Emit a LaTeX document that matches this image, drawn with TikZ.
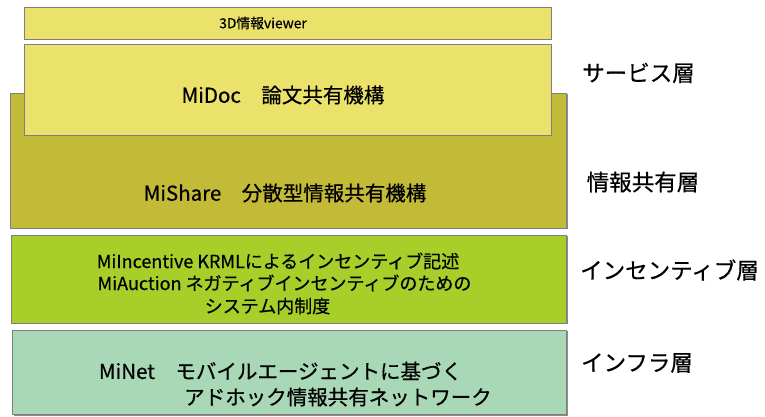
\documentclass[tikz,border=0pt]{standalone}
\usepackage{fontspec}
\setmainfont{Noto Sans CJK JP}[FakeBold=0.5]
\usetikzlibrary{shadows}
\definecolor{cYellow}{HTML}{EAE26B}
\definecolor{cOlive}{HTML}{C3BA37}
\definecolor{cLime}{HTML}{A7CE29}
\definecolor{cMint}{HTML}{A9D8B6}
\definecolor{cBorder}{HTML}{7F7F7F}
\begin{document}
\begin{tikzpicture}[x=1pt,y=-1pt,
  layerbox/.style={draw=cBorder, line width=0.9pt, inner sep=0pt, outer sep=0pt,
    drop shadow={shadow xshift=1pt, shadow yshift=-1pt, opacity=0.45, fill=black}},
  txt/.style={inner sep=0pt, anchor=center, text=black},
  fsSmall/.style={font=\fontsize{13.8}{16}\selectfont},
  fsBig/.style={font=\fontsize{20.5}{24}\selectfont},
  fsMid/.style={font=\fontsize{18}{21}\selectfont},
  fsLabel/.style={font=\fontsize{22.5}{26}\selectfont},
]
\useasboundingbox (0,0) rectangle (765,417);
% boxes
\node[layerbox, fill=cOlive, minimum width=556.5pt, minimum height=135pt] (mishare) at (288.25,160.5) {};
\node[layerbox, fill=cYellow, minimum width=527pt, minimum height=91pt] (midoc) at (287.5,89.5) {};
\node[layerbox, fill=cYellow, minimum width=527pt, minimum height=32.5pt] (viewer) at (287.5,23.25) {};
\node[layerbox, fill=cLime, minimum width=555.5pt, minimum height=88pt] (incent) at (288.75,279) {};
\node[layerbox, fill=cMint, minimum width=554pt, minimum height=84.5pt] (infra) at (289.5,372.25) {};
% texts
\node[txt, fsSmall] (tviewer) at (263,23) {3D情報viewer};
\node[txt, fsBig] (tmidoc) at (283,95) {MiDoc　論文共有機構};
\node[txt, fsBig] (tmishare) at (285,193) {MiShare　分散型情報共有機構};
\node[txt, fsMid] (tinc1) at (278,261) {MiIncentive KRMLによるインセンティブ記述};
\node[txt, fsMid] (tinc2) at (284.5,283) {MiAuction ネガティブインセンティブのための};
\node[txt, fsMid] (tinc3) at (267.5,306) {システム内制度};
\node[txt, fsBig] (tnet1) at (280.5,371) {MiNet　モバイルエージェントに基づく};
\node[txt, fsBig] (tnet2) at (338,397) {アドホック情報共有ネットワーク};
% layer labels
\node[txt, fsLabel] (lservice) at (638.5,73) {サービス層};
\node[txt, fsLabel] (lshare) at (643,182) {情報共有層};
\node[txt, fsLabel] (lincent) at (669.5,270) {インセンティブ層};
\node[txt, fsLabel] (linfra) at (637,363) {インフラ層};
\end{tikzpicture}
\end{document}
